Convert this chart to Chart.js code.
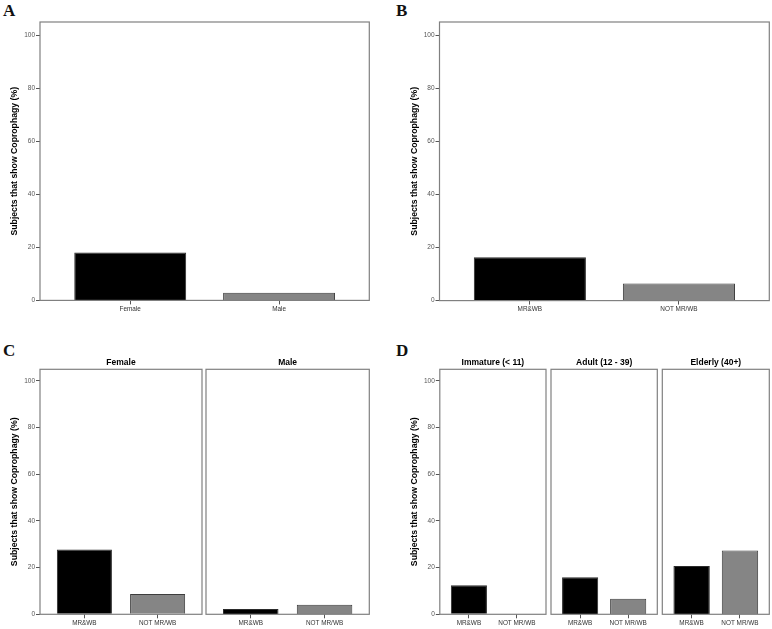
<!DOCTYPE html>
<html>
<head>
<meta charset="utf-8">
<script src="https://cdn.jsdelivr.net/npm/chart.js@4.4.1/dist/chart.umd.min.js"></script>
<style>
body{margin:0;background:#fff;width:772px;height:629px;position:relative;overflow:hidden}
canvas{position:absolute;left:0;top:0}
.tag{position:absolute;font:bold 17px "Liberation Serif",serif;color:#111;line-height:17px}
</style>
</head>
<body>
<div class="tag" style="left:3px;top:2px">A</div>
<div class="tag" style="left:396px;top:2px">B</div>
<div class="tag" style="left:3px;top:342px">C</div>
<div class="tag" style="left:396px;top:342px">D</div>
<canvas id="cA" width="772" height="629"></canvas>
<canvas id="cB" width="772" height="629"></canvas>
<canvas id="cCf" width="772" height="629"></canvas>
<canvas id="cCm" width="772" height="629"></canvas>
<canvas id="cDi" width="772" height="629"></canvas>
<canvas id="cDa" width="772" height="629"></canvas>
<canvas id="cDe" width="772" height="629"></canvas>
<script>
// data (percent of subjects showing coprophagy)
const sexCats = ['Female', 'Male'];
const sexVals = [18.1, 2.9];
const groupCats = ['MR&WB', 'NOT MR/WB'];
const groupVals = [16.3, 6.4];
const femaleVals = [27.8, 8.7];
const maleVals = [2.3, 4.1];
const immatureVals = [12.4, 0];
const adultVals = [15.9, 6.7];
const elderlyVals = [20.7, 27.3];
const yTicks = [0, 20, 40, 60, 80, 100];
const yMax = 105;
const yTitle = 'Subjects that show Coprophagy (%)';

const barFill = ['#000000', '#858585'];
const barEdge = ['#2b2b2b', '#3d3d3d'];
const FONT = '"Liberation Sans", Arial, sans-serif';
const W = 772, H = 629;

// draws the gray frame around each plot area
const frame = {
  id: 'frame',
  afterDatasetsDraw(chart){
    const a = chart.chartArea, ctx = chart.ctx;
    ctx.save();
    ctx.strokeStyle = '#808080';
    ctx.lineWidth = 1.2;
    ctx.strokeRect(a.left, a.top, a.right - a.left, a.bottom - a.top);
    ctx.restore();
  }
};

function barChart(id, cats, vals, box, opt){
  const yW = opt.yAxis ? 40 : 0, xH = 16, hH = 12;
  // categories sit at ~27% / 73% of the frame
  const unit = 0.452, edge = 0.274 / unit;
  const scales = {
    x: {
      type: 'linear', offset: false,
      min: 1 - edge, max: cats.length + edge,
      afterBuildTicks: s => { s.ticks = cats.map((c, i) => ({value: i + 1})); },
      afterFit: s => { s.height = xH; },
      ticks: {callback: v => cats[v - 1], font: {family: FONT, size: 6.4}, color: '#333', padding: 1, maxRotation: 0},
      grid: {display: true, drawOnChartArea: false, drawTicks: true, tickLength: 4, tickColor: '#555', offset: false},
      border: {display: false}
    },
    y: {
      display: !!opt.yAxis,
      min: 0, max: yMax,
      afterBuildTicks: s => { s.ticks = yTicks.map(v => ({value: v})); },
      afterFit: s => { s.width = yW; },
      ticks: {font: {family: FONT, size: 6.5}, color: '#555', padding: 1},
      grid: {display: true, drawOnChartArea: false, drawTicks: true, tickLength: 4, tickColor: '#555'},
      border: {display: false},
      title: {display: true, text: yTitle, color: '#000',
        font: {family: FONT, size: 8.7, weight: 'bold'}, padding: {top: 9.8, bottom: 0}}
    }
  };
  if (opt.heading){
    scales.x2 = {
      type: 'linear', position: 'top', display: true,
      afterFit: s => { s.height = hH; },
      ticks: {display: false},
      grid: {display: false, drawTicks: false},
      border: {display: false},
      title: {display: true, text: opt.heading, color: '#000',
        font: {family: FONT, size: 8.5, weight: 'bold'}, padding: {top: 0, bottom: 0}}
    };
  }
  return new Chart(document.getElementById(id), {
    type: 'bar',
    data: {
      datasets: [{
        data: vals.map((v, i) => ({x: i + 1, y: v})),
        backgroundColor: barFill,
        borderColor: barEdge,
        borderWidth: 1,
        categoryPercentage: 0.752,
        barPercentage: 1
      }]
    },
    options: {
      responsive: false,
      animation: false,
      layout: {padding: {
        left: box.l - yW,
        right: W - box.r,
        top: box.t - (opt.heading ? hH : 0),
        bottom: H - box.b - xH
      }},
      plugins: {legend: {display: false}, tooltip: {enabled: false}},
      scales
    },
    plugins: [frame]
  });
}

// frame boxes of each plot (page pixels)
barChart('cA', sexCats, sexVals, {l: 40, t: 22, r: 369.3, b: 300.4}, {yAxis: true});
barChart('cB', groupCats, groupVals, {l: 439.5, t: 22, r: 769.3, b: 300.6}, {yAxis: true});
barChart('cCf', groupCats, femaleVals, {l: 40, t: 369.3, r: 202, b: 614.3}, {yAxis: true, heading: 'Female'});
barChart('cCm', groupCats, maleVals, {l: 206, t: 369.3, r: 369.3, b: 614.3}, {heading: 'Male'});
barChart('cDi', groupCats, immatureVals, {l: 439.8, t: 369.3, r: 546, b: 614.3}, {yAxis: true, heading: 'Immature (< 11)'});
barChart('cDa', groupCats, adultVals, {l: 551, t: 369.3, r: 657.3, b: 614.3}, {heading: 'Adult (12 - 39)'});
barChart('cDe', groupCats, elderlyVals, {l: 662.3, t: 369.3, r: 769.3, b: 614.3}, {heading: 'Elderly (40+)'});
</script>
</body>
</html>
